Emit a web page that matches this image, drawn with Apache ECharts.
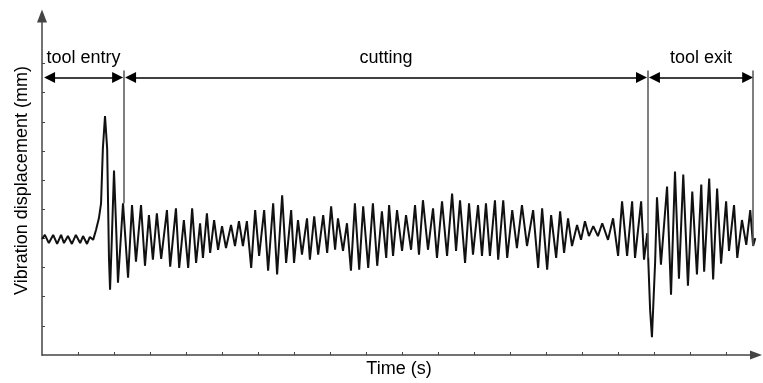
<!DOCTYPE html>
<html>
<head>
<meta charset="utf-8">
<title>Vibration displacement</title>
<script src="https://cdn.jsdelivr.net/npm/echarts@6.0.0/dist/echarts.min.js"></script>
<style>
  html, body { margin: 0; padding: 0; background: #fff; }
  #chart { width: 763px; height: 383px; }
</style>
</head>
<body>
<div id="chart"></div>
<script>
// signal: turning points of the trace (time in s, displacement in axis units)
const time = [
  0.00, 0.08, 0.19, 0.31, 0.42, 0.53, 0.61, 0.72, 0.83, 0.94,
  1.06, 1.14, 1.25, 1.33, 1.42, 1.50, 1.58, 1.64, 1.69, 1.75,
  1.81, 1.86, 1.89, 1.94, 2.00, 2.06, 2.11, 2.25, 2.39,
  2.50, 2.61, 2.75, 2.86, 2.97, 3.08, 3.19, 3.31, 3.47, 3.56,
  3.72, 3.81, 3.94, 4.06, 4.17, 4.28, 4.39, 4.47, 4.58, 4.67,
  4.78, 4.89, 5.00, 5.11, 5.25, 5.36, 5.47, 5.58, 5.69, 5.81,
  5.92, 6.03, 6.17, 6.28, 6.42, 6.53, 6.67, 6.78, 6.92, 7.00,
  7.11, 7.22, 7.36, 7.44, 7.56, 7.67, 7.81, 7.92, 8.03, 8.14,
  8.22, 8.36, 8.47, 8.58, 8.69, 8.81, 8.92, 9.06, 9.19, 9.31,
  9.44, 9.56, 9.64, 9.75, 9.86, 10.00, 10.11, 10.25, 10.36, 10.47,
  10.58, 10.72, 10.86, 10.97, 11.11, 11.25, 11.39, 11.50, 11.61, 11.75,
  11.86, 11.97, 12.11, 12.22, 12.33, 12.44, 12.58, 12.67, 12.81, 12.92,
  13.06, 13.19, 13.33, 13.47, 13.64, 13.78, 13.89, 14.03, 14.14, 14.28,
  14.39, 14.50, 14.61, 14.72, 14.86, 14.97, 15.08, 15.19, 15.31, 15.44,
  15.56, 15.72, 15.86, 16.00, 16.11, 16.25, 16.39, 16.47, 16.64, 16.72,
  16.81, 16.89, 16.94, 17.03, 17.08, 17.19, 17.36, 17.47, 17.58, 17.69,
  17.81, 17.94, 18.06, 18.19, 18.31, 18.39, 18.53, 18.64, 18.75, 18.86,
  19.00, 19.08, 19.22, 19.31, 19.44, 19.56, 19.67, 19.75, 19.81
];
const disp = [
  3.98, 4.12, 3.84, 4.12, 3.81, 4.12, 3.84, 4.08, 3.81, 4.12,
  3.84, 4.08, 3.81, 4.05, 3.95, 4.29, 4.69, 5.20, 7.07, 8.20,
  7.07, 3.33, 2.24, 4.01, 6.33, 4.35, 2.48, 5.20, 2.65,
  5.14, 3.20, 5.14, 3.06, 4.80, 3.27, 4.86, 3.30, 4.97, 3.03,
  5.03, 2.99, 4.63, 2.99, 5.03, 3.16, 4.52, 3.33, 4.86, 3.50,
  4.63, 3.61, 4.42, 3.67, 4.46, 3.74, 4.59, 3.74, 4.59, 2.99,
  4.97, 3.40, 4.97, 2.89, 5.20, 2.76, 5.48, 3.16, 4.97, 3.16,
  4.63, 3.44, 4.69, 3.27, 4.76, 3.44, 4.80, 3.50, 5.10, 3.61,
  4.69, 3.57, 4.52, 2.89, 5.20, 2.93, 5.10, 2.99, 5.20, 3.06,
  4.93, 3.33, 5.14, 3.40, 4.97, 3.57, 4.80, 3.61, 5.14, 3.44,
  5.31, 3.61, 5.03, 3.33, 5.27, 3.40, 5.54, 3.57, 5.31, 3.16,
  5.20, 3.44, 5.14, 3.40, 5.20, 3.40, 5.31, 3.27, 5.31, 3.33,
  4.97, 3.67, 5.14, 3.74, 4.97, 2.99, 5.03, 2.93, 4.80, 3.33,
  4.93, 3.50, 4.69, 3.74, 4.46, 3.95, 4.59, 4.08, 4.42, 4.08,
  4.52, 3.95, 4.69, 3.40, 5.27, 3.40, 5.27, 3.33, 5.27, 3.27,
  4.18, 1.53, 0.61, 3.23, 5.41, 3.10, 5.78, 2.07, 6.29, 2.62,
  6.19, 2.38, 5.61, 2.76, 5.85, 2.86, 6.05, 2.59, 5.71, 3.13,
  5.27, 3.57, 5.14, 3.33, 4.63, 3.78, 4.97, 3.74, 4.01
];

// machining phases and their boundaries
const phaseNames = ['tool entry', 'cutting', 'tool exit'];
const phaseFrom = [0.21, 2.46, 17.01];
const phaseTo = [2.10, 16.65, 19.60];
const boundaryTime = [2.28, 16.83, 19.75];
const boundaryBottom = [5.20, 3.33, 3.74];
const arrowLevel = 9.52;
const boundaryTop = 9.76;

const xTicks = [1, 2, 3, 4, 5, 6, 7, 8, 9, 10, 11, 12, 13, 14, 15, 16, 17, 18, 19];
const yTicks = [1, 2, 3, 4, 5, 6, 7, 8, 9, 10];

const FONT = "'Liberation Sans', Arial, sans-serif";

const chart = echarts.init(document.getElementById('chart'));

const markData = [];
phaseNames.forEach((name, i) => {
  markData.push([
    { name: name, coord: [phaseFrom[i], arrowLevel] },
    { coord: [phaseTo[i], arrowLevel] }
  ]);
});
boundaryTime.forEach((t, i) => {
  markData.push([
    {
      coord: [t, boundaryTop], symbol: 'none',
      lineStyle: { color: '#555', width: 1.5 },
      label: { show: false }
    },
    { coord: [t, boundaryBottom[i]], symbol: 'none' }
  ]);
});

const axisLineStyle = { color: '#444', width: 1.5 };

chart.setOption({
  animation: false,
  backgroundColor: '#fff',
  textStyle: { fontFamily: FONT },
  grid: { left: 42, top: 16, width: 714, height: 342 },
  xAxis: {
    type: 'value',
    min: 0,
    max: 19.83,
    interval: 1,
    name: 'Time (s)',
    nameLocation: 'middle',
    nameGap: 5,
    nameTextStyle: { fontSize: 18, color: '#000', fontFamily: FONT },
    axisLine: { show: true, lineStyle: axisLineStyle, symbol: ['none', 'triangle'], symbolSize: [9, 12] },
    axisTick: { show: true, inside: true, length: 3, customValues: xTicks, lineStyle: { color: '#444' } },
    axisLabel: { show: false },
    splitLine: { show: false }
  },
  yAxis: {
    type: 'value',
    min: 0,
    max: 11.63,
    interval: 1,
    name: 'Vibration displacement (mm)',
    nameLocation: 'middle',
    nameGap: 11,
    nameTextStyle: { fontSize: 18, color: '#000', fontFamily: FONT, padding: [0, 0, 0, 10] },
    axisLine: { show: true, lineStyle: axisLineStyle, symbol: ['none', 'triangle'], symbolSize: [10, 13] },
    axisTick: { show: true, inside: true, length: 3, customValues: yTicks, lineStyle: { color: '#444' } },
    axisLabel: { show: false },
    splitLine: { show: false }
  },
  series: [{
    type: 'line',
    data: time.map((t, i) => [t, disp[i]]),
    showSymbol: false,
    symbol: 'none',
    lineStyle: { color: '#111', width: 2 },
    markLine: {
      silent: true,
      symbol: ['triangle', 'triangle'],
      symbolSize: 11,
      lineStyle: { color: '#000', width: 1.5, type: 'solid' },
      label: {
        show: true,
        position: 'middle',
        formatter: '{b}',
        distance: 10,
        fontSize: 18,
        color: '#000',
        fontFamily: FONT
      },
      emphasis: { disabled: true },
      data: markData
    }
  }]
});
</script>
</body>
</html>
